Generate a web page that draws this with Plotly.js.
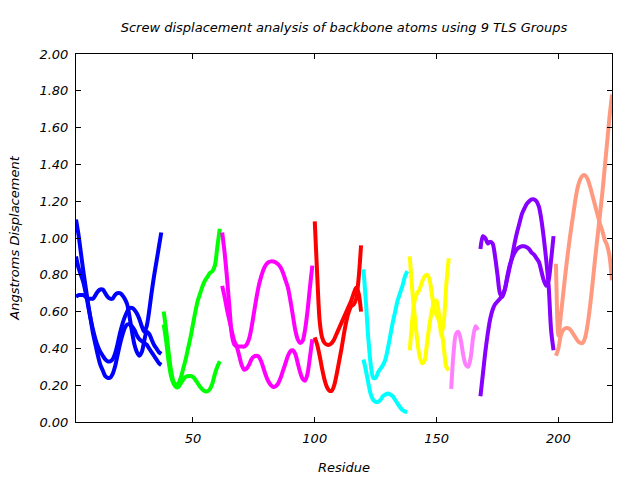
<!DOCTYPE html>
<html>
<head>
<meta charset="utf-8">
<script src="https://cdn.plot.ly/plotly-3.0.1.min.js"></script>
<style>html,body{margin:0;padding:0;background:#fff}#chart{width:640px;height:480px}</style>
</head>
<body>
<div id="chart"></div>
<script>
// ---- Data ----
const resBlue = [2,3,4,5,6,7,8,9,10,11,12,13,14,15,16,17,18,19,20,21,22,23,24,25,26,27,28,29,30,31,32,33,34,35,36,37];
const blue1 = [1.10,1.02,0.92,0.82,0.73,0.64,0.56,0.48,0.42,0.36,0.31,0.28,0.25,0.24,0.24,0.26,0.30,0.36,0.42,0.47,0.51,0.53,0.53,0.52,0.50,0.47,0.45,0.44,0.43,0.42,0.40,0.38,0.36,0.34,0.32,0.31];
const blue2 = [0.90,0.84,0.80,0.76,0.70,0.63,0.56,0.50,0.45,0.41,0.38,0.36,0.34,0.33,0.33,0.34,0.37,0.42,0.48,0.53,0.57,0.60,0.62,0.62,0.61,0.59,0.56,0.52,0.49,0.52,0.60,0.70,0.79,0.87,0.95,1.03];
const blue3 = [0.68,0.69,0.69,0.69,0.68,0.67,0.67,0.67,0.69,0.71,0.72,0.72,0.70,0.68,0.67,0.67,0.69,0.70,0.70,0.69,0.67,0.64,0.57,0.49,0.42,0.38,0.36,0.38,0.44,0.49,0.48,0.45,0.42,0.40,0.38,0.37];

const resGreen = [38,39,40,41,42,43,44,45,46,47,48,49,50,51,52,53,54,55,56,57,58,59,60,61];
const green1 = [0.60,0.50,0.38,0.28,0.22,0.20,0.21,0.24,0.29,0.34,0.40,0.46,0.53,0.60,0.66,0.70,0.74,0.77,0.79,0.81,0.82,0.85,0.95,1.05];
const green2 = [0.53,0.44,0.33,0.25,0.21,0.19,0.19,0.21,0.23,0.245,0.25,0.25,0.245,0.23,0.21,0.19,0.175,0.167,0.167,0.18,0.21,0.26,0.30,0.33];

const resMagenta = [62,63,64,65,66,67,68,69,70,71,72,73,74,75,76,77,78,79,80,81,82,83,84,85,86,87,88,89,90,91,92,93,94,95,96,97,98,99];
const magenta1 = [1.03,0.92,0.78,0.62,0.47,0.42,0.41,0.41,0.41,0.41,0.42,0.45,0.51,0.59,0.67,0.74,0.79,0.83,0.855,0.868,0.873,0.872,0.867,0.857,0.84,0.81,0.77,0.73,0.66,0.58,0.50,0.45,0.43,0.44,0.50,0.60,0.73,0.85];
const magenta2 = [0.74,0.68,0.61,0.55,0.49,0.44,0.41,0.36,0.31,0.285,0.29,0.31,0.34,0.355,0.36,0.355,0.33,0.29,0.25,0.22,0.20,0.19,0.195,0.21,0.24,0.28,0.32,0.36,0.385,0.39,0.37,0.32,0.27,0.235,0.225,0.26,0.35,0.45];

const resRed = [100,101,102,103,104,105,106,107,108,109,110,111,112,113,114,115,116,117,118,119];
const red1 = [1.09,0.80,0.55,0.46,0.43,0.42,0.42,0.43,0.45,0.48,0.51,0.54,0.57,0.60,0.63,0.66,0.70,0.73,0.70,0.60];
const red2 = [0.46,0.42,0.36,0.29,0.23,0.19,0.17,0.17,0.20,0.26,0.33,0.40,0.48,0.55,0.60,0.63,0.64,0.67,0.78,0.96];

const resCyan = [120,121,122,123,124,125,126,127,128,129,130,131,132,133,134,135,136,137,138];
const cyan1 = [0.83,0.65,0.45,0.31,0.24,0.24,0.27,0.29,0.31,0.34,0.40,0.47,0.54,0.60,0.66,0.70,0.74,0.79,0.82];
const cyan2 = [0.34,0.28,0.21,0.15,0.12,0.11,0.11,0.12,0.14,0.15,0.155,0.15,0.14,0.12,0.10,0.08,0.065,0.057,0.055];

const resYellow = [139,140,141,142,143,144,145,146,147,148,149,150,151,152,153,154,155];
const yellow1 = [0.90,0.72,0.58,0.45,0.36,0.32,0.33,0.42,0.52,0.60,0.65,0.66,0.58,0.47,0.55,0.75,0.89];
const yellow2 = [0.39,0.55,0.66,0.70,0.72,0.76,0.79,0.80,0.78,0.70,0.62,0.58,0.55,0.50,0.40,0.30,0.28];

const resPink = [156,157,158,159,160,161,162,163,164,165,166,167];
const pink1 = [0.18,0.38,0.48,0.49,0.44,0.36,0.31,0.30,0.35,0.46,0.52,0.50];

const resPurple = [168,169,170,171,172,173,174,175,176,177,178,179,180,181,182,183,184,185,186,187,188,189,190,191,192,193,194,195,196,197,198];
const purple1 = [0.14,0.26,0.38,0.48,0.56,0.61,0.64,0.655,0.67,0.69,0.72,0.78,0.84,0.90,0.97,1.03,1.08,1.13,1.16,1.185,1.20,1.21,1.21,1.20,1.17,1.10,1.00,0.88,0.74,0.50,0.39];
const purple2 = [0.94,1.01,1.00,0.97,0.98,0.97,0.90,0.80,0.70,0.68,0.72,0.79,0.85,0.89,0.92,0.94,0.95,0.955,0.955,0.95,0.94,0.92,0.91,0.89,0.87,0.82,0.77,0.74,0.77,0.88,1.01];

const resSalmon = [199,200,201,202,203,204,205,206,207,208,209,210,211,212,213,214,215,216,217,218,219,220,221,222];
const salmon1 = [0.36,0.40,0.47,0.50,0.51,0.51,0.50,0.48,0.46,0.44,0.43,0.43,0.46,0.53,0.63,0.75,0.88,1.00,1.12,1.24,1.38,1.52,1.66,1.78];
const salmon2 = [0.86,0.47,0.58,0.70,0.82,0.93,1.03,1.12,1.21,1.28,1.32,1.34,1.34,1.32,1.28,1.23,1.18,1.13,1.08,1.04,0.99,0.96,0.90,0.77];

const xTicks = [50,100,150,200];
const chartTitle = "Screw displacement analysis of backbone atoms using 9 TLS Groups";
const xTitle = "Residue";
const yTitle = "Angstroms Displacement";

// ---- Traces ----
const groups = [
  [resBlue, [blue1, blue2, blue3], "#0000ff"],
  [resGreen, [green1, green2], "#00ff00"],
  [resMagenta, [magenta1, magenta2], "#ff00ff"],
  [resRed, [red1, red2], "#ff0000"],
  [resCyan, [cyan1, cyan2], "#00ffff"],
  [resYellow, [yellow1, yellow2], "#ffff00"],
  [resPink, [pink1], "#ff80ff"],
  [resPurple, [purple1, purple2], "#8800ff"],
  [resSalmon, [salmon1, salmon2], "#ff9a80"]
];
const traces = [];
groups.forEach(([xs, series, color]) => {
  series.forEach(ys => {
    traces.push({
      x: xs, y: ys, type: "scatter", mode: "lines",
      line: {color: color, width: 4, shape: "spline", smoothing: 0.8},
      hoverinfo: "skip"
    });
  });
});

const tickFont = {family: "DejaVu Sans", size: 13, color: "#000", style: "italic"};
const layout = {
  width: 640, height: 480,
  margin: {l: 76, r: 28, t: 54, b: 58},
  paper_bgcolor: "#fff", plot_bgcolor: "#fff",
  showlegend: false,
  title: {text: chartTitle, font: {family: "DejaVu Sans", size: 13, color: "#000", style: "italic"},
          x: 0.5375, xanchor: "center", y: 1 - 27/480, yref: "container", yanchor: "middle"},
  xaxis: {
    range: [2, 222], tickvals: xTicks, ticks: "inside", ticklen: 5, tickcolor: "#000",
    showline: true, linecolor: "#000", linewidth: 1, mirror: "ticks",
    showgrid: false, zeroline: false, tickfont: tickFont, ticklabelstandoff: 4,
    title: {text: xTitle, font: tickFont, standoff: 18}
  },
  yaxis: {
    range: [0, 2], dtick: 0.2, tick0: 0, tickformat: ".2f", ticks: "inside", ticklen: 5, tickcolor: "#000",
    showline: true, linecolor: "#000", linewidth: 1, mirror: "ticks",
    showgrid: false, zeroline: false, tickfont: tickFont, ticklabelstandoff: 4,
    title: {text: yTitle, font: tickFont, standoff: 16}
  }
};
Plotly.newPlot("chart", traces, layout, {staticPlot: true, displayModeBar: false});
</script>
</body>
</html>
